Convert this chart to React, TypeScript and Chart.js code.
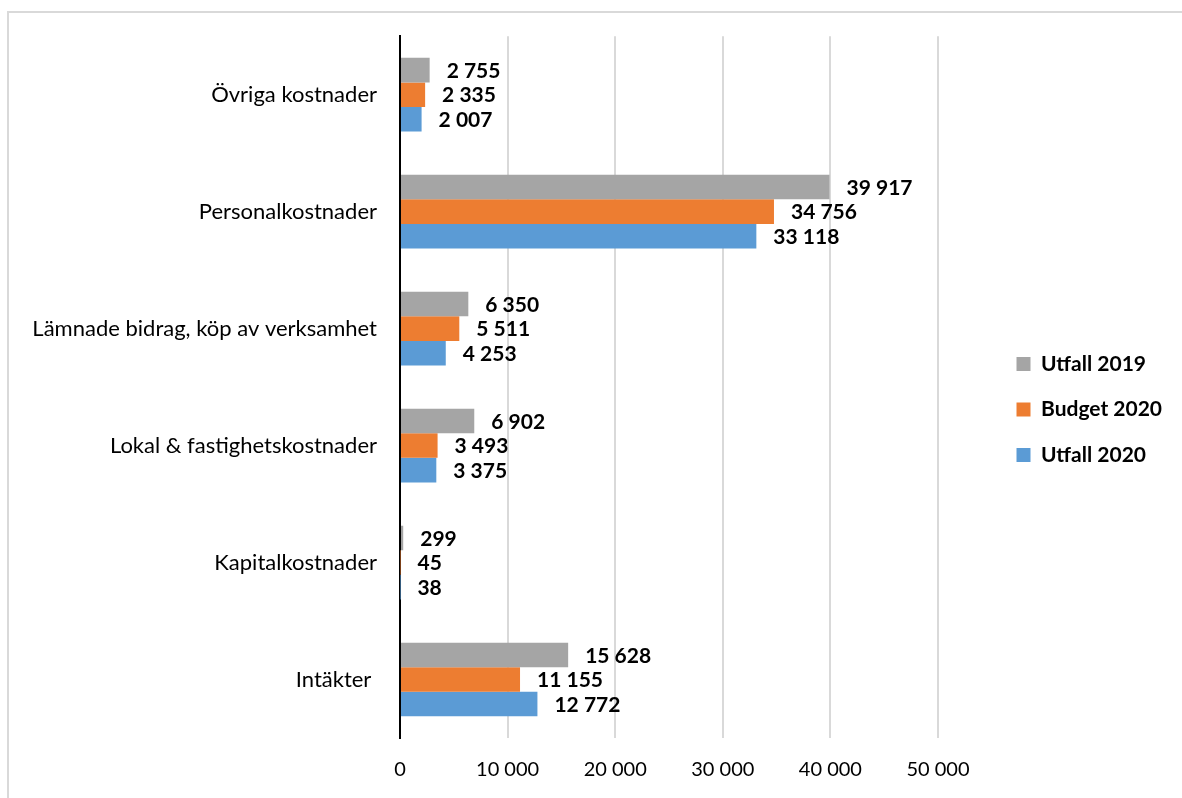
import React, { useEffect, useRef } from 'react';
import { Chart, registerables } from 'chart.js';

Chart.register(...registerables);

const categories = [
  'Övriga kostnader',
  'Personalkostnader',
  'Lämnade bidrag, köp av verksamhet',
  'Lokal & fastighetskostnader',
  'Kapitalkostnader',
  'Intäkter ',
];
const seriesNames = ['Utfall 2019', 'Budget 2020', 'Utfall 2020'];
const utfall2019 = [2755, 39917, 6350, 6902, 299, 15628];
const budget2020 = [2335, 34756, 5511, 3493, 45, 11155];
const utfall2020 = [2007, 33118, 4253, 3375, 38, 12772];
const xMin = 0;
const xMax = 50000;
const xStep = 10000;
const seriesColors = ['#A5A5A5', '#ED7D31', '#5B9BD5'];

const FONT = 'Lato, "Liberation Sans", sans-serif';
const W = 1182;
const H = 798;

function fmt(v: number): string {
  return String(Math.round(v)).replace(/\B(?=(\d{3})+(?!\d))/g, ' ');
}

const legendWidthPlugin = {
  id: 'legendWidthPlugin',
  beforeLayout(chart: any) {
    const lg = chart.legend;
    if (lg && !lg.__patched) {
      const orig = lg.fit;
      lg.fit = function () {
        orig.call(this);
        this.width = 190;
      };
      lg.__patched = true;
    }
  },
};

const dataLabelPlugin = {
  id: 'dataLabelPlugin',
  afterDatasetsDraw(chart: any) {
    const ctx = chart.ctx;
    ctx.save();
    ctx.font = `bold 21px ${FONT}`;
    ctx.fillStyle = '#000';
    ctx.textAlign = 'left';
    ctx.textBaseline = 'middle';
    chart.data.datasets.forEach((ds: any, i: number) => {
      const meta = chart.getDatasetMeta(i);
      meta.data.forEach((el: any, j: number) => {
        ctx.fillText(fmt(ds.data[j]), el.x + 17, el.y + 1);
      });
    });
    ctx.restore();
  },
};

export default function App() {
  const ref = useRef<HTMLCanvasElement | null>(null);
  useEffect(() => {
    if (!ref.current) return;
    const chart = new Chart(ref.current, {
      type: 'bar',
      data: {
        labels: categories,
        datasets: [
          { label: seriesNames[0], data: utfall2019, backgroundColor: seriesColors[0] },
          { label: seriesNames[1], data: budget2020, backgroundColor: seriesColors[1] },
          { label: seriesNames[2], data: utfall2020, backgroundColor: seriesColors[2] },
        ],
      },
      options: {
        indexAxis: 'y',
        animation: false,
        responsive: false,
        devicePixelRatio: 1,
        datasets: { bar: { categoryPercentage: 0.63, barPercentage: 1 } },
        layout: { padding: { top: 36, bottom: 15, left: 0, right: 0 } },
        plugins: {
          tooltip: { enabled: false },
          legend: {
            position: 'right',
            labels: {
              boxWidth: 14,
              boxHeight: 14,
              padding: 24.5,
              color: '#000',
              font: { family: FONT, size: 21, weight: 'bold' },
            },
          },
        },
        scales: {
          x: {
            type: 'linear',
            min: xMin,
            max: xMax,
            ticks: {
              stepSize: xStep,
              padding: 20,
              color: '#000',
              font: { family: FONT, size: 20 },
              callback: (v: any) => fmt(Number(v)),
            },
            grid: {
              drawTicks: false,
              lineWidth: 2,
              color: (c: any) => (c.index === 0 ? 'rgba(0,0,0,0)' : '#D9D9D9'),
            },
            border: { display: false },
            afterFit: (s: any) => {
              s.height = 45;
            },
          },
          y: {
            type: 'category',
            ticks: {
              padding: 23,
              color: '#000',
              font: { family: FONT, size: 22 },
            },
            grid: { display: false, drawTicks: false },
            border: { display: true, color: '#000', width: 2 },
            afterFit: (s: any) => {
              s.width = 400;
            },
          },
          yRight: {
            type: 'category',
            position: 'right',
            display: true,
            ticks: { display: false },
            grid: { display: false, drawTicks: false },
            border: { display: false },
            afterFit: (s: any) => {
              s.width = 54;
            },
          },
        },
      },
      plugins: [legendWidthPlugin, dataLabelPlugin],
    } as any);
    return () => chart.destroy();
  }, []);

  return (
    <div style={{ position: 'absolute', left: 0, top: 0, width: W, height: H, overflow: 'hidden', background: '#fff' }}>
      <div
        style={{
          position: 'absolute',
          left: 7,
          top: 11,
          width: W + 20,
          height: H + 20,
          border: '2px solid #D9D9D9',
          boxSizing: 'border-box',
        }}
      />
      <canvas ref={ref} width={W} height={H} style={{ position: 'absolute', left: 0, top: 0, width: W, height: H }} />
    </div>
  );
}
